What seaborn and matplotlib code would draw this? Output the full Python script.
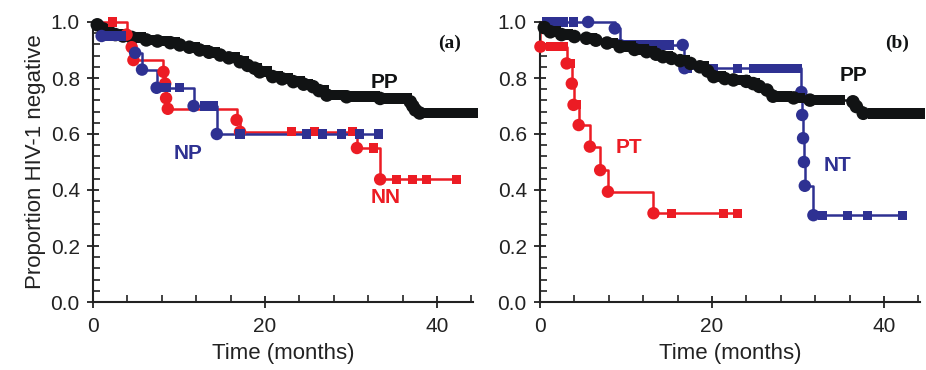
import numpy as np
import matplotlib
matplotlib.use('Agg')
import matplotlib.pyplot as plt
from matplotlib.ticker import MultipleLocator, FormatStrFormatter
import seaborn as sns

# ---- panel (a) ----
pp_a_t = [0, 0.5, 1.2, 2.0, 2.6, 3.5, 4.5, 6.2, 7.5, 9.0, 10.1, 11.2, 12.4, 13.5, 14.8, 15.8, 17.1,
          18.0, 18.8, 19.4, 20.9, 22.0, 23.3, 24.5, 25.6, 26.3, 27.2, 29.5, 33.4, 36.9, 37.2, 37.5, 38.0]
pp_a_s = [1.0, 0.99, 0.975, 0.962, 0.955, 0.95, 0.945, 0.936, 0.932, 0.926, 0.918, 0.91, 0.90, 0.892,
          0.882, 0.872, 0.858, 0.845, 0.835, 0.822, 0.805, 0.797, 0.787, 0.778, 0.769, 0.755, 0.739,
          0.733, 0.727, 0.715, 0.70, 0.686, 0.675]
pp_a_cens = [1.6, 3.0, 5.0, 5.5, 7.0, 8.2, 9.5, 11.8, 13.0, 14.2, 16.5, 17.5, 19.0, 20.2, 21.5, 22.6,
             24.0, 25.0, 26.8, 28.0, 28.8, 30.0, 31.0, 32.0, 32.8, 34.0, 35.0, 36.0, 36.5, 38.8,
             40.0, 41.0, 42.0, 42.8, 43.6, 44.2]

np_a_t = [0, 1.0, 4.9, 5.7, 7.4, 11.7, 14.4]
np_a_s = [1.0, 0.95, 0.89, 0.83, 0.765, 0.70, 0.60]
np_a_cens = [1.6, 2.5, 3.3, 8.5, 10.1, 13.0, 14.0, 17.1, 24.8, 26.7, 28.9, 31.0, 33.2]

nn_a_t = [0, 3.9, 4.5, 4.7, 8.2, 8.4, 8.5, 8.7, 16.7, 17.1, 30.7, 33.4]
nn_a_s = [1.0, 0.955, 0.91, 0.864, 0.822, 0.78, 0.728, 0.69, 0.65, 0.608, 0.55, 0.438]
nn_a_cens = [2.3, 23.1, 25.8, 30.2, 32.6, 35.3, 37.2, 38.8, 42.3]

# ---- panel (b) ----
pp_b_t = [0, 0.5, 1.2, 2.5, 4.0, 5.4, 6.5, 7.8, 9.3, 11.0, 12.4, 13.5, 14.3, 15.3, 16.3, 17.5, 18.6,
          19.5, 20.2, 21.5, 22.5, 24.0, 24.8, 25.5, 26.4, 27.1, 29.5, 31.4, 36.4, 36.8, 37.6]
pp_b_s = [1.0, 0.98, 0.965, 0.955, 0.948, 0.942, 0.935, 0.925, 0.912, 0.902, 0.894, 0.885, 0.876,
          0.87, 0.862, 0.852, 0.84, 0.825, 0.805, 0.798, 0.793, 0.788, 0.78, 0.77, 0.757, 0.735,
          0.729, 0.721, 0.715, 0.698, 0.674]
pp_b_cens = [1.8, 3.2, 6.0, 8.5, 10.0, 10.5, 12.0, 13.0, 14.8, 16.8, 19.0, 21.0, 23.2, 23.8, 25.0,
             28.0, 28.7, 30.2, 31.8, 32.5, 33.2, 34.0, 34.9, 38.8, 40.0, 41.0, 42.0, 43.0, 44.2]

nt_b_t = [0, 5.6, 8.7, 9.3, 16.6, 16.8, 30.4, 30.5, 30.6, 30.7, 30.8, 31.8]
nt_b_s = [1.0, 1.0, 0.977, 0.918, 0.918, 0.835, 0.75, 0.668, 0.585, 0.50, 0.415, 0.31]
nt_b_cens = [0.8, 1.5, 2.2, 2.7, 3.9, 9.9, 11.0, 12.0, 13.0, 14.0, 15.0, 17.1, 20.2, 23.0, 24.8,
             25.8, 26.8, 27.8, 28.8, 29.9, 32.9, 35.8, 38.1, 42.2]

pt_b_t = [0, 0.05, 3.1, 3.7, 3.9, 4.5, 5.8, 7.0, 7.9, 13.2]
pt_b_s = [1.0, 0.912, 0.852, 0.78, 0.704, 0.632, 0.555, 0.471, 0.394, 0.317]
pt_b_cens = [0.1, 1.2, 2.0, 2.7, 3.5, 4.2, 15.3, 21.3, 23.0]

black = '#111314'
red = '#ec1c24'
blue = '#2e3192'
axis_col = '#222222'


def surv_at(times, kt, ks):
    idx = np.searchsorted(kt, times, side='right') - 1
    return np.asarray(ks)[idx]


def km(ax, kt, ks, cens, color, cs=80, ss=44):
    end = max(max(cens), kt[-1])
    xs = list(kt) + [end]
    ys = list(ks) + [ks[-1]]
    sns.lineplot(x=xs, y=ys, ax=ax, color=color, lw=1.8, drawstyle='steps-post',
                 estimator=None, sort=False, clip_on=False)
    sns.scatterplot(x=kt[1:], y=ks[1:], ax=ax, color=color, marker='o', s=cs,
                    edgecolor='none', clip_on=False, zorder=3)
    sns.scatterplot(x=cens, y=surv_at(cens, kt, ks), ax=ax, color=color, marker='s', s=ss,
                    edgecolor='none', clip_on=False, zorder=3)


sns.set_style('ticks')
plt.rcParams['font.family'] = ['Liberation Sans', 'DejaVu Sans']

fig = plt.figure(figsize=(9.26, 3.7), dpi=100)
ax1 = fig.add_axes([93 / 926, 68 / 370, 380 / 926, 280 / 370])
ax2 = fig.add_axes([540 / 926, 68 / 370, 380 / 926, 280 / 370])

km(ax1, pp_a_t, pp_a_s, pp_a_cens, black, cs=95, ss=60)
km(ax1, nn_a_t, nn_a_s, nn_a_cens, red)
km(ax1, np_a_t, np_a_s, np_a_cens, blue)

km(ax2, nt_b_t, nt_b_s, nt_b_cens, blue)
km(ax2, pp_b_t, pp_b_s, pp_b_cens, black, cs=95, ss=60)
km(ax2, pt_b_t, pt_b_s, pt_b_cens, red)

lab = dict(fontsize=15, fontweight='bold', ha='center', va='center')
ax1.text(33.9, 0.785, 'PP', color=black, **lab)
ax1.text(11.0, 0.532, 'NP', color=blue, **lab)
ax1.text(34.0, 0.373, 'NN', color=red, **lab)
ax2.text(36.5, 0.81, 'PP', color=black, **lab)
ax2.text(10.3, 0.552, 'PT', color=red, **lab)
ax2.text(34.6, 0.489, 'NT', color=blue, **lab)
tag = dict(fontsize=14, fontweight='bold', family='Liberation Serif', ha='center', va='center',
           color=black)
ax1.text(41.5, 0.925, '(a)', **tag)
ax2.text(41.5, 0.925, '(b)', **tag)

for ax in (ax1, ax2):
    ax.set_xlim(0, 44.2)
    ax.set_ylim(0, 1.0)
    ax.xaxis.set_major_locator(MultipleLocator(20))
    ax.xaxis.set_minor_locator(MultipleLocator(4))
    ax.yaxis.set_major_locator(MultipleLocator(0.2))
    ax.yaxis.set_minor_locator(MultipleLocator(0.04))
    ax.yaxis.set_major_formatter(FormatStrFormatter('%.1f'))
    ax.tick_params(which='major', direction='inout', length=9, width=1.3, labelsize=15,
                   colors=axis_col)
    ax.tick_params(axis='y', which='major', pad=5)
    ax.tick_params(axis='x', which='major', pad=6)
    ax.tick_params(which='minor', direction='in', length=5, width=1.2, colors=axis_col)
    sns.despine(ax=ax)
    for sp in ('left', 'bottom'):
        ax.spines[sp].set_linewidth(1.5)
        ax.spines[sp].set_color(axis_col)
    ax.set_xlabel('Time (months)', fontsize=16, color=axis_col, labelpad=5)
    ax.patch.set_alpha(0)

ax1.set_ylabel('Proportion HIV-1 negative', fontsize=16, color=axis_col, labelpad=3)

fig.savefig('out.png', dpi=100)
